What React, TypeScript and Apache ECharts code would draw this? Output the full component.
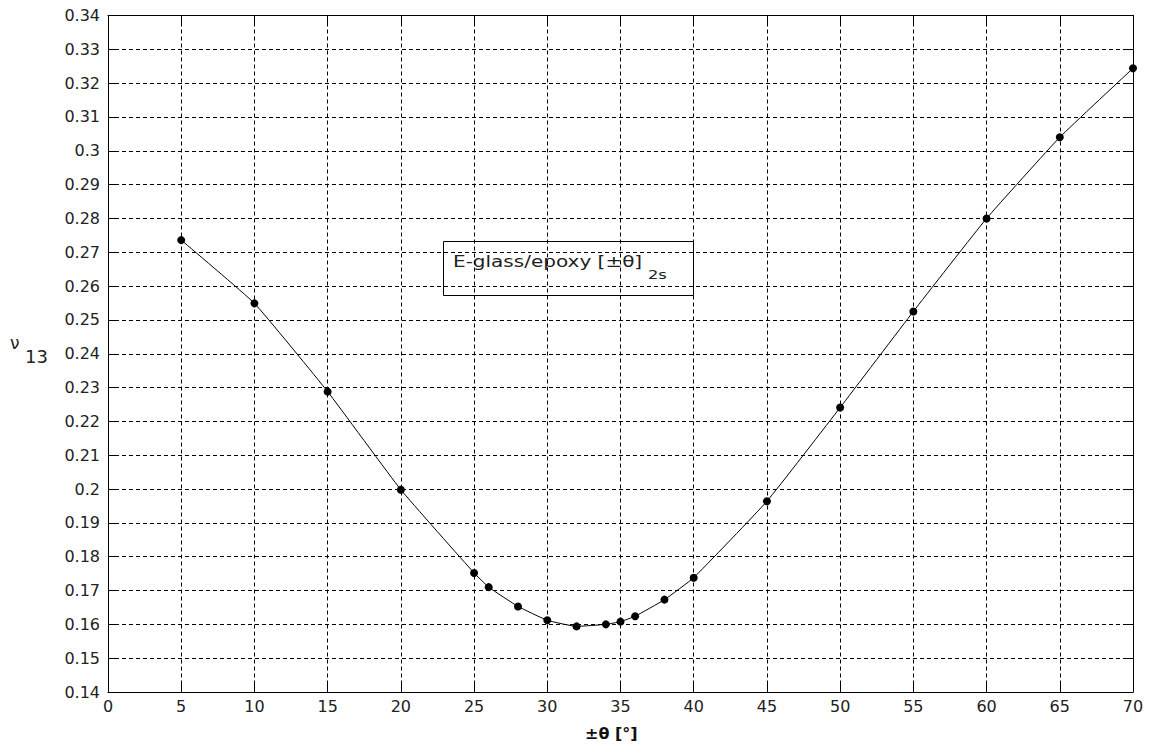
import React, { useEffect, useRef } from "react";
import * as echarts from "echarts";

const thetaDeg = [5, 10, 15, 20, 25, 26, 28, 30, 32, 34, 35, 36, 38, 40, 45, 50, 55, 60, 65, 70];
const nu13 = [
  0.2736, 0.2549, 0.2288, 0.1998, 0.1752, 0.171, 0.1653, 0.1612, 0.1594, 0.16,
  0.1608, 0.1624, 0.1673, 0.1738, 0.1964, 0.2241, 0.2525, 0.28, 0.304, 0.3244,
];
const xRange = { min: 0, max: 70, step: 5 };
const yRange = { min: 0.14, max: 0.34, step: 0.01 };
const legendMain = "E-glass/epoxy [±θ]";
const legendSub = "2s";
const xLabel = "±θ [°]";
const yLabelMain = "ν";
const yLabelSub = "13";

const FONT = "DejaVu Sans";

export default function App() {
  const ref = useRef<HTMLDivElement>(null);
  useEffect(() => {
    if (!ref.current) return;
    const chart = echarts.init(ref.current, undefined, { renderer: "svg" });
    const labelStyle = { color: "#222", fontFamily: FONT, fontSize: 16 };
    const dashed = { show: true, lineStyle: { color: "#000", width: 1, type: [4, 3] as any } };
    const axisLine = { show: true, onZero: false, lineStyle: { color: "#000", width: 1 } };
    const tick = { show: true, inside: true, length: 9, lineStyle: { color: "#000", width: 1 } };
    chart.setOption({
      animation: false,
      backgroundColor: "#fff",
      grid: { left: 108, right: 16, top: 15.5, bottom: 62, containLabel: false },
      xAxis: [
        {
          type: "value",
          position: "bottom",
          min: xRange.min,
          max: xRange.max,
          interval: xRange.step,
          axisLine,
          axisTick: tick,
          axisLabel: { ...labelStyle, margin: 6 },
          splitLine: dashed,
        },
        {
          type: "value",
          position: "top",
          min: xRange.min,
          max: xRange.max,
          interval: xRange.step,
          axisLine,
          axisTick: tick,
          axisLabel: { show: false },
          splitLine: { show: false },
        },
      ],
      yAxis: [
        {
          type: "value",
          position: "left",
          min: yRange.min,
          max: yRange.max,
          interval: yRange.step,
          axisLine,
          axisTick: tick,
          axisLabel: { ...labelStyle, margin: 8 },
          splitLine: dashed,
        },
        {
          type: "value",
          position: "right",
          min: yRange.min,
          max: yRange.max,
          interval: yRange.step,
          axisLine,
          axisTick: tick,
          axisLabel: { show: false },
          splitLine: { show: false },
        },
      ],
      series: [
        {
          type: "line",
          data: thetaDeg.map((t, i) => [t, nu13[i]]),
          smooth: 0.12,
          symbol: "circle",
          symbolSize: 8,
          itemStyle: { color: "#000" },
          lineStyle: { color: "#000", width: 1 },
        },
      ],
      graphic: [
        {
          type: "rect",
          shape: { x: 443.5, y: 241.5, width: 250, height: 54 },
          style: { fill: "transparent", stroke: "#000", lineWidth: 1 },
        },
        {
          type: "text",
          x: 453,
          y: 261,
          scaleX: 1.25,
          style: { text: legendMain, fontFamily: FONT, fontSize: 16, fill: "#222", verticalAlign: "middle", align: "left" },
        },
        {
          type: "text",
          x: 648,
          y: 274,
          scaleX: 1.25,
          style: { text: legendSub, fontFamily: FONT, fontSize: 13, fill: "#222", verticalAlign: "middle", align: "left" },
        },
        {
          type: "text",
          x: 10,
          y: 343,
          style: { text: yLabelMain, fontFamily: FONT, fontSize: 17, fill: "#222", verticalAlign: "middle", align: "left" },
        },
        {
          type: "text",
          x: 25,
          y: 356,
          style: { text: yLabelSub, fontFamily: FONT, fontSize: 18, fill: "#222", verticalAlign: "middle", align: "left" },
        },
        {
          type: "text",
          x: 585,
          y: 733,
          style: { text: xLabel, fontFamily: FONT, fontSize: 16, fontWeight: "bold", fill: "#111", verticalAlign: "middle", align: "left" },
        },
      ],
    });
    return () => chart.dispose();
  }, []);
  return (
    <div
      ref={ref}
      style={{ position: "absolute", left: 0, top: 0, width: 1149, height: 754, background: "#fff" }}
    />
  );
}
